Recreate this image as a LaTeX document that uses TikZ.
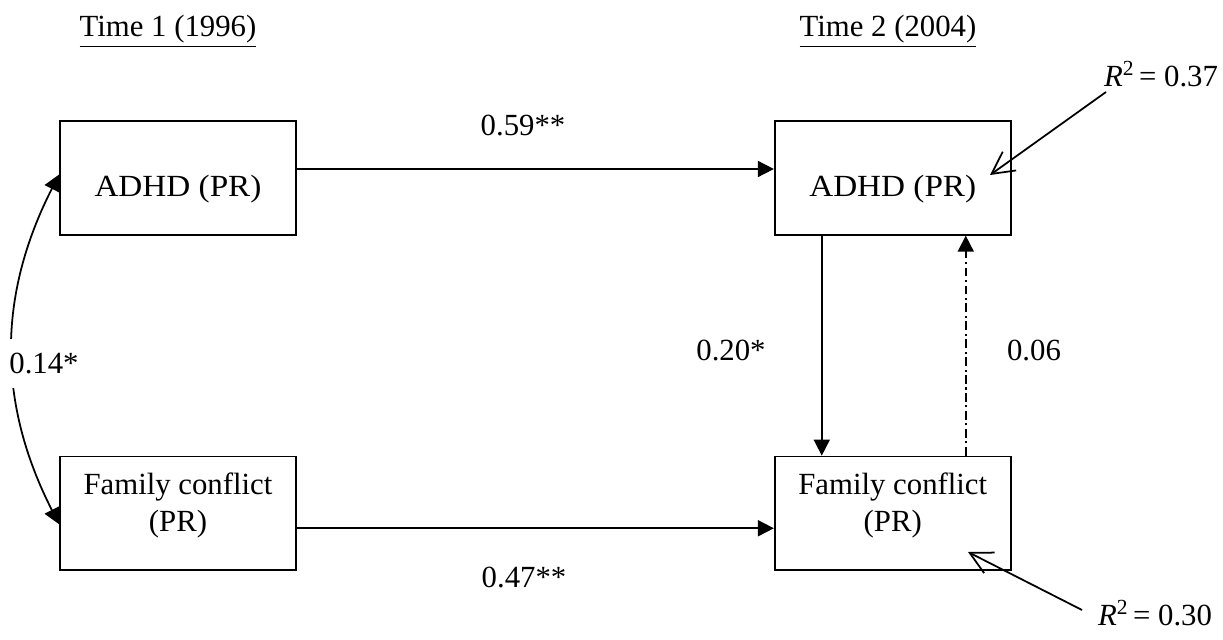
\documentclass[tikz,border=0pt]{standalone}
\usepackage{fontspec}
\setmainfont{Liberation Serif}
\usepackage{tikz}
\usetikzlibrary{arrows.meta,positioning,calc}

\begin{document}
\begin{tikzpicture}[
  font=\fontsize{17.5}{21}\selectfont,
  box/.style={rectangle, draw, line width=1pt, minimum width=4.72cm, minimum height=2.27cm, inner sep=0pt, align=center},
  adhd/.style={box, text height=0.86cm, text depth=0.1cm, font=\fontsize{17.5}{21}\selectfont\addfontfeature{FakeStretch=1.08}},
  fam/.style={box, text height=1.16cm, text depth=0.44cm},
  arrow/.style={-{Triangle[length=3.2mm,width=3.2mm]}, line width=1pt},
  both/.style={{Triangle[length=3.2mm,width=3.2mm]}-{Triangle[length=3.2mm,width=3.2mm]}, line width=1pt},
  resid/.style={-{Straight Barb[length=4.4mm,width=4.6mm]}, line width=1pt},
  coef/.style={inner sep=1pt}
]
\useasboundingbox (0,0) rectangle (24.46,12.78);

% Time 1
\node[anchor=base] (t1) at (3.36,12.04) {\underline{Time 1 (1996)}};
\node[adhd] (a1) at (3.56,9.22) {ADHD (PR)};
\node[fam, below=4.4cm of a1] (f1) {Family conflict\\(PR)};

% Time 2
\node[adhd, right=9.54cm of a1] (a2) {ADHD (PR)};
\node[fam, below=4.4cm of a2] (f2) {Family conflict\\(PR)};
\node[anchor=base] (t2) at (17.76,12.04) {\underline{Time 2 (2004)}};

% Paths
\draw[arrow] ([yshift=0.18cm]a1.east) -- ([yshift=0.18cm]a2.west);
\draw[arrow] ([yshift=-0.3cm]f1.east) -- ([yshift=-0.3cm]f2.west);
\draw[arrow] ([xshift=-1.42cm]a2.south) -- ([xshift=-1.42cm]f2.north);
\draw[arrow, dash pattern=on 5pt off 2pt on 1.2pt off 2pt] ([xshift=1.46cm]f2.north) -- ([xshift=1.46cm]a2.south);
\draw[both] ([yshift=0.07cm]a1.west) to[bend right=27] ([yshift=-0.22cm]f1.west);

% Coefficients
\node[coef] (c59) at (10.46,10.28) {0.59**};
\node[coef] (c47) at (10.48,1.24) {0.47**};
\node[coef] (c20) at (14.62,5.78) {0.20*};
\node[coef] (c06) at (20.68,5.78) {0.06};
\node[coef, fill=white, inner ysep=8pt] (c14) at (0.88,5.52) {0.14*};

% Explained variance
\node (r1) at (23.22,11.3) {\textit{R}\textsuperscript{2}\hspace{0.15em}= 0.37};
\node (r2) at (23.1,0.52) {\textit{R}\textsuperscript{2}\hspace{0.15em}= 0.30};
\coordinate (r1tail) at (22.12,10.94);
\coordinate (r1tip) at (19.8,9.28);
\coordinate (r2tail) at (21.64,0.58);
\coordinate (r2tip) at (19.36,1.74);
\draw[resid] (r1tail) -- (r1tip);
\draw[resid] (r2tail) -- (r2tip);

\end{tikzpicture}
\end{document}
